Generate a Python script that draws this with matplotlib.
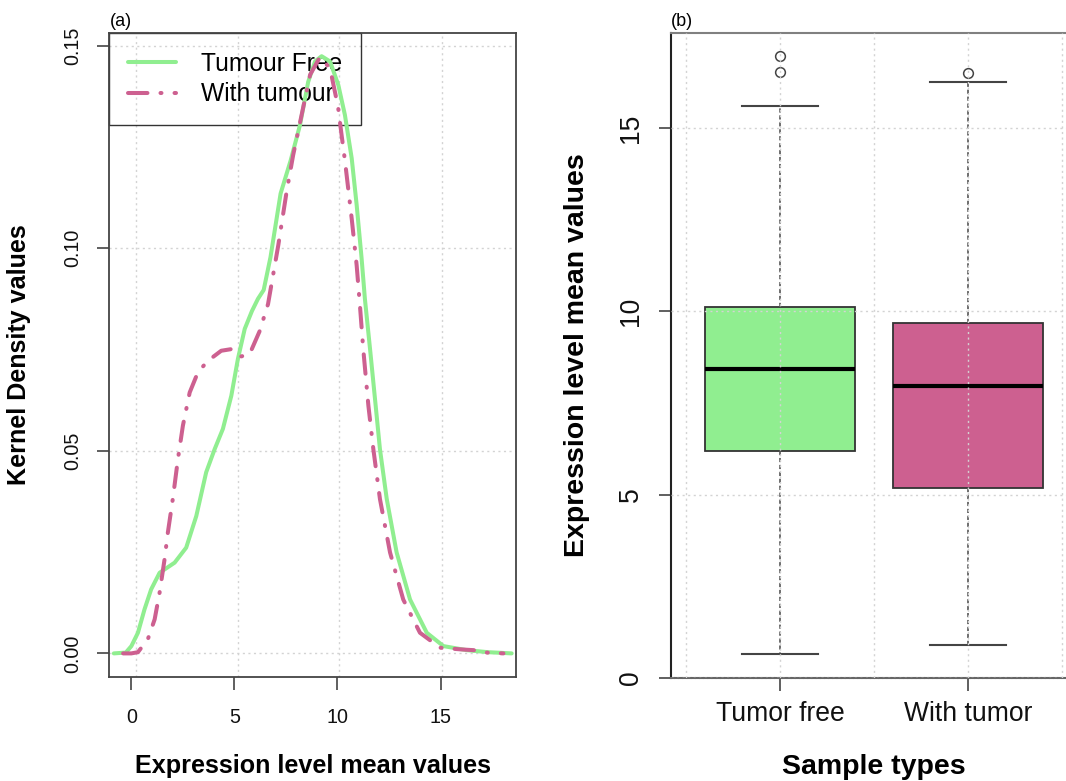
import matplotlib
matplotlib.use("Agg")
import matplotlib.pyplot as plt

# ---------------- data ----------------
series_labels = ["Tumour Free", "With tumour"]

free_x = [-0.85, -0.27, 0.00, 0.32, 0.64, 0.96, 1.37, 1.75, 2.10, 2.66,
          3.15, 3.63, 4.04, 4.44, 4.85, 5.17, 5.50, 5.85, 6.14, 6.42,
          6.75, 7.24, 7.73, 8.18, 8.58, 8.91, 9.23, 9.64, 10.04, 10.36,
          10.69, 10.93, 11.17, 11.33, 11.58, 11.82, 12.06, 12.39, 12.87, 13.52,
          14.33, 15.14, 16.27, 17.30, 18.45]
free_y = [0.0, 0.0002, 0.0018, 0.0051, 0.0109, 0.0158, 0.0199, 0.0212, 0.0224, 0.0261,
          0.0339, 0.0447, 0.0504, 0.0554, 0.0636, 0.0727, 0.0801, 0.0845, 0.0875, 0.0897,
          0.0978, 0.1135, 0.1217, 0.1304, 0.1411, 0.1461, 0.1474, 0.1461, 0.1403, 0.1329,
          0.1222, 0.1107, 0.0975, 0.0875, 0.0751, 0.0628, 0.0504, 0.0381, 0.0249, 0.0133,
          0.0051, 0.0018, 0.0008, 0.0003, 0.0]

tum_x = [-0.40, 0.00, 0.32, 0.80, 1.13, 1.37, 1.61, 1.77, 2.01, 2.26,
         2.50, 2.83, 3.23, 3.71, 4.36, 4.85, 5.33, 5.74, 6.22, 6.63,
         7.13, 7.53, 7.85, 8.26, 8.67, 9.15, 9.64, 10.03, 10.19, 10.36,
         10.69, 10.93, 11.09, 11.25, 11.50, 11.74, 12.06, 12.55, 13.19, 14.00,
         14.98, 15.95, 16.60, 17.24, 18.05]
tum_y = [0.0, 0.0, 0.0003, 0.0035, 0.0084, 0.0150, 0.0232, 0.0298, 0.0381, 0.0480,
         0.0562, 0.0644, 0.0694, 0.0722, 0.0747, 0.0751, 0.0733, 0.0739, 0.0795, 0.0862,
         0.1008, 0.1139, 0.1230, 0.1329, 0.1428, 0.1472, 0.1444, 0.1348, 0.1283, 0.1217,
         0.1073, 0.0958, 0.0858, 0.0751, 0.0611, 0.0504, 0.0381, 0.0249, 0.0133, 0.0051,
         0.0014, 0.0010, 0.0008, 0.0002, 0.0]

density_xticks = [0, 5, 10, 15]
density_yticks = [0.00, 0.05, 0.10, 0.15]
density_ytick_labels = ["0.00", "0.05", "0.10", "0.15"]

box_categories = ["Tumor free", "With tumor"]
box_q1 = [6.19, 5.19]
box_med = [8.43, 7.97]
box_q3 = [10.13, 9.68]
box_whislo = [0.65, 0.91]
box_whishi = [15.59, 16.26]
box_fliers = [[16.52, 16.96], [16.49]]
box_yticks = [0, 5, 10, 15]

# ---------------- style ----------------
plt.rcParams['font.family'] = ['Liberation Sans', 'DejaVu Sans']
plt.rcParams['lines.scale_dashes'] = False

GREEN = '#90EE90'
PINK = '#CD6090'
GRID = '#d3d3d3'
GRID_LS = (0, (1.5, 2.5))

W, H = 1066, 781
fig = plt.figure(figsize=(W / 100, H / 100), dpi=100)


def fx(x):
    return x / W


def fy(y):
    return 1 - y / H


# ---------------- panel (a) ----------------
ax1 = fig.add_axes([fx(109.3), fy(677.3), (516.2 - 109.3) / W, (677.3 - 32.7) / H])
ax1.set_xlim(-1.07, 18.67)
ax1.set_ylim(-0.0059, 0.1532)

for gx in [0.23, 5.18, 10.08, 15.05]:
    ax1.axvline(gx, color=GRID, ls=GRID_LS, lw=1, zorder=0.5)
for gy in density_yticks:
    ax1.axhline(gy, color=GRID, ls=GRID_LS, lw=1, zorder=0.5)

ax1.plot(free_x, free_y, color=GREEN, lw=2.9, zorder=3,
         solid_capstyle='round', solid_joinstyle='round', label=series_labels[0])
ax1.plot(tum_x, tum_y, color=PINK, lw=2.9, zorder=4,
         ls=(0, (14.0, 9.4, 0.7, 9.4)), dash_capstyle='round',
         dash_joinstyle='round', label=series_labels[1])

leg = ax1.legend(loc='upper left', bbox_to_anchor=(0, 1), borderaxespad=0,
                 fancybox=False, edgecolor='black', fontsize=17.7,
                 handlelength=1.93, handletextpad=1.0, borderpad=0.78,
                 labelspacing=0.26)
leg.get_frame().set_facecolor('none')
leg.get_frame().set_linewidth(1.0)
leg.set_zorder(2)

ax1.set_xticks(density_xticks)
ax1.set_yticks(density_yticks, labels=density_ytick_labels)
ax1.tick_params(axis='both', direction='out', length=9, width=1.2,
                color='#444444', labelsize=14.2, labelcolor='#111111')
ax1.tick_params(axis='x', pad=23.9)
ax1.tick_params(axis='y', pad=17.4)
for lbl in ax1.get_xticklabels():
    lbl.set_va('baseline')
for lbl in ax1.get_yticklabels():
    lbl.set_rotation(90)
    lbl.set_ha('center')
    lbl.set_va('center')
for s in ax1.spines.values():
    s.set_color('#444444')
    s.set_linewidth(1.3)

# ---------------- panel (b) ----------------
ax2 = fig.add_axes([fx(671), fy(678), (1077 - 671) / W, (678 - 32.7) / H])
stats = []
for i in range(len(box_categories)):
    stats.append(dict(q1=box_q1[i], med=box_med[i], q3=box_q3[i],
                      whislo=box_whislo[i], whishi=box_whishi[i],
                      fliers=box_fliers[i], label=box_categories[i]))
bp = ax2.bxp(stats, positions=[1, 2], widths=0.8, capwidths=0.4,
             patch_artist=True,
             boxprops=dict(edgecolor='#333333', linewidth=1.3),
             medianprops=dict(color='black', linewidth=3.0, solid_capstyle='butt'),
             whiskerprops=dict(color='#555555', linewidth=1.2, linestyle=(0, (3, 2))),
             capprops=dict(color='#444444', linewidth=1.5),
             flierprops=dict(marker='o', markersize=7, markerfacecolor='none',
                             markeredgecolor='#444444', markeredgewidth=1.1))
for patch, c in zip(bp['boxes'], [GREEN, PINK]):
    patch.set_facecolor(c)

ax2.set_xlim(0.42, 2.58)
ax2.set_ylim(0, 17.6)
for gx in [0.5, 1, 1.5, 2, 2.5]:
    ax2.axvline(gx, color=GRID, ls=GRID_LS, lw=1, zorder=6)
for gy in box_yticks:
    ax2.axhline(gy, color=GRID, ls=GRID_LS, lw=1, zorder=6)

ax2.set_xticks([1, 2], labels=box_categories)
ax2.set_yticks(box_yticks)
ax2.tick_params(axis='both', direction='out', length=9, width=1.2,
                color='#444444', labelsize=19.1, labelcolor='#111111')
ax2.tick_params(axis='x', pad=21.7)
ax2.tick_params(axis='y', pad=19.8)
for lbl in ax2.get_xticklabels():
    lbl.set_va('baseline')
for lbl in ax2.get_yticklabels():
    lbl.set_rotation(90)
    lbl.set_ha('center')
    lbl.set_va('center')
ax2.spines['right'].set_visible(False)
ax2.spines['top'].set_color('#808080')
ax2.spines['top'].set_linewidth(1.5)
ax2.spines['left'].set_color('#222222')
ax2.spines['left'].set_linewidth(1.5)
ax2.spines['bottom'].set_color('#666666')
ax2.spines['bottom'].set_linewidth(1.5)
ax2.spines['bottom'].set_linestyle((0, (2, 1)))

# ---------------- texts ----------------
fig.text(fx(18.8), fy(355), "Kernel Density values", rotation=90,
         ha='center', va='center', fontsize=18.1, fontweight='bold')
fig.text(fx(312.7), fy(773), "Expression level mean values",
         ha='center', va='baseline', fontsize=18.1, fontweight='bold')
fig.text(fx(577.3), fy(355.3), "Expression level mean values", rotation=90,
         ha='center', va='center', fontsize=20.5, fontweight='bold')
fig.text(fx(874), fy(773.5), "Sample types",
         ha='center', va='baseline', fontsize=20.5, fontweight='bold')
fig.text(fx(109.5), fy(26.2), "(a)", ha='left', va='baseline', fontsize=13)
fig.text(fx(671), fy(26.2), "(b)", ha='left', va='baseline', fontsize=13)

fig.savefig("out.png", dpi=100)
